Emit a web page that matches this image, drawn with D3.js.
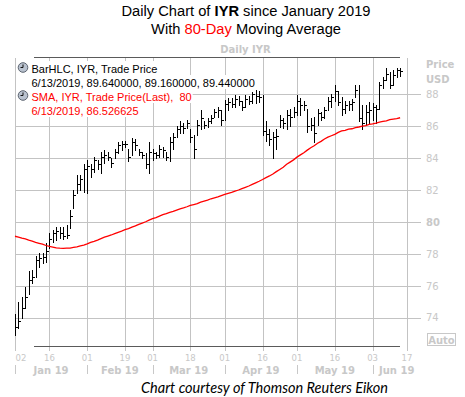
<!DOCTYPE html>
<html>
<head>
<meta charset="utf-8">
<script src="https://cdn.jsdelivr.net/npm/d3@7"></script>
<style>
    html, body { margin: 0; padding: 0; background: #fff; }
    svg { display: block; }
</style>
</head>
<body>
<div id="chart"></div>
<script>
// IYR daily bars, Jan 2 - Jun 13 2019 (trading-day index 0..112)
const highs = [
    74.25, 75.0, 75.3, 75.9, 76.9, 77.0, 77.85, 78.05, 78.05, 78.7,
    79.3, 79.5, 79.7, 79.7, 79.7, 79.8, 80.75, 82.0, 82.95, 82.95,
    83.6, 83.9, 83.6, 84.1, 83.9, 84.4, 84.5, 84.4, 84.0, 84.6,
    85.0, 85.1, 85.1, 84.6, 85.25, 85.2, 84.6, 84.4, 84.3, 85.0,
    84.6, 84.4, 84.8, 84.7, 84.4, 85.3, 85.55, 86.0, 86.3, 86.2,
    86.4, 85.8, 85.45, 86.4, 87.0, 86.3, 86.5, 86.7, 87.1, 87.2,
    87.0, 87.65, 87.75, 87.75, 87.95, 87.9, 87.55, 87.95, 87.9, 88.15,
    88.3, 88.2, 87.95, 86.3, 85.85, 85.65, 85.8, 86.7, 86.5, 87.0,
    87.1, 87.2, 87.95, 87.75, 87.6, 87.1, 86.5, 86.6, 87.1, 86.9,
    87.2, 87.85, 88.05, 88.6, 88.2, 87.85, 87.6, 87.6, 87.7, 88.6,
    88.6, 87.3, 87.3, 87.5, 87.45, 87.3, 88.8, 89.1, 89.65, 89.4,
    89.5, 89.65, 89.64
];
const lows = [
    72.9, 73.35, 74.0, 74.6, 75.5, 76.15, 76.55, 77.2, 77.4, 77.5,
    78.35, 78.75, 78.85, 79.0, 78.9, 79.0, 79.6, 80.9, 81.8, 82.0,
    81.9, 81.8, 82.8, 83.1, 83.3, 83.05, 83.7, 83.9, 83.45, 84.0,
    84.3, 84.5, 84.7, 83.8, 84.2, 84.5, 84.2, 84.0, 83.35, 83.05,
    83.9, 84.0, 84.1, 84.1, 83.9, 83.8, 84.6, 85.3, 85.6, 85.6,
    85.9, 85.0, 84.0, 85.45, 85.8, 85.9, 85.95, 86.2, 86.6, 86.6,
    86.1, 86.4, 87.0, 87.2, 87.2, 87.3, 87.0, 87.2, 87.4, 87.45,
    87.45, 87.5, 85.45, 85.1, 84.8, 84.0, 84.6, 85.95, 85.9, 85.85,
    86.0, 86.6, 86.7, 86.7, 87.0, 85.65, 85.75, 85.0, 86.1, 86.4,
    86.5, 87.0, 87.2, 87.55, 87.3, 86.7, 86.8, 87.0, 87.0, 87.85,
    86.3, 85.85, 86.1, 86.2, 86.4, 86.2, 87.1, 88.4, 88.9, 88.4,
    88.6, 89.1, 89.16
];
const closes = [
    73.4, 73.8, 74.6, 75.3, 76.35, 76.55, 77.6, 77.75, 77.8, 78.2,
    78.9, 79.3, 79.4, 79.3, 79.1, 79.2, 80.4, 81.7, 82.4, 82.7,
    83.3, 83.5, 83.3, 83.9, 83.6, 84.1, 84.2, 84.1, 83.7, 84.4,
    84.8, 84.9, 84.9, 84.1, 85.0, 84.8, 84.4, 84.2, 83.6, 84.4,
    84.3, 84.2, 84.6, 84.5, 84.1, 85.0, 85.3, 85.8, 86.0, 85.9,
    86.2, 85.3, 84.6, 86.1, 86.5, 86.1, 86.3, 86.5, 86.9, 87.0,
    86.4, 87.4, 87.5, 87.4, 87.7, 87.6, 87.2, 87.7, 87.6, 88.0,
    87.9, 87.8, 85.7, 85.5, 85.2, 85.3, 85.4, 86.4, 86.2, 86.7,
    86.6, 86.9, 87.6, 87.3, 87.3, 86.0, 86.1, 85.6, 86.8, 86.6,
    87.0, 87.6, 87.8, 88.2, 87.5, 87.1, 87.3, 87.4, 87.5, 88.3,
    86.5, 86.2, 86.9, 87.0, 87.2, 87.1, 88.6, 88.9, 89.3, 88.6,
    89.2, 89.5, 89.44
];
// 80-day simple moving average
const sma80 = [
    79.10, 79.05, 78.98, 78.93, 78.86, 78.80, 78.72, 78.66, 78.60, 78.52,
    78.46, 78.42, 78.37, 78.35, 78.34, 78.35, 78.36, 78.40, 78.44, 78.50,
    78.55, 78.62, 78.71, 78.78, 78.86, 78.95, 79.04, 79.11, 79.18, 79.27,
    79.35, 79.42, 79.51, 79.58, 79.67, 79.75, 79.85, 79.93, 80.01, 80.11,
    80.20, 80.27, 80.36, 80.45, 80.52, 80.60, 80.66, 80.74, 80.82, 80.88,
    80.95, 81.03, 81.09, 81.15, 81.24, 81.30, 81.36, 81.45, 81.51, 81.57,
    81.65, 81.73, 81.79, 81.85, 81.93, 82.00, 82.09, 82.17, 82.25, 82.35,
    82.45, 82.55, 82.66, 82.78, 82.88, 83.00, 83.15, 83.29, 83.43, 83.61,
    83.75, 83.89, 84.06, 84.20, 84.34, 84.50, 84.65, 84.77, 84.93, 85.05,
    85.20, 85.31, 85.40, 85.49, 85.61, 85.70, 85.74, 85.81, 85.84, 85.91,
    85.95, 86.00, 86.04, 86.11, 86.15, 86.20, 86.26, 86.30, 86.34, 86.41,
    86.45, 86.48, 86.53
];

const priceTicks = [74, 76, 78, 80, 82, 84, 86, 88];
const dayTickIdx = [0, 10, 21, 32, 40, 51, 61, 72, 82, 93, 104, 114];
const dayTickLabels = ["02", "16", "01", "19", "01", "18", "01", "16", "01", "16", "03", "17"];
const monthStartIdx = [0, 21, 40, 61, 82, 104];
const monthEndIdx = [21, 40, 61, 82, 104, 118];
const monthLabels = ["Jan 19", "Feb 19", "Mar 19", "Apr 19", "May 19", "Jun 19"];

const W = 465, H = 397;
const grid = "#c3c3c3";
const faint = "#c8c8c8";

const svg = d3.select("#chart").append("svg")
    .attr("width", W)
    .attr("height", H);

const x = d3.scaleLinear().domain([0, 114]).range([15, 407]);
const y = d3.scaleLinear().domain([74, 88]).range([317.6, 94.3]);
const px = v => Math.round(v) + 0.5;

// titles
const t1 = svg.append("text")
    .attr("x", 246).attr("y", 15.5)
    .attr("text-anchor", "middle")
    .style("font", "14.7px 'Liberation Sans', Arial, sans-serif");
t1.append("tspan").text("Daily Chart of ");
t1.append("tspan").attr("font-weight", "bold").text("IYR");
t1.append("tspan").text(" since January 2019");

const t2 = svg.append("text")
    .attr("x", 246).attr("y", 34.3)
    .attr("text-anchor", "middle")
    .style("font", "14.7px 'Liberation Sans', Arial, sans-serif");
t2.append("tspan").text("With ");
t2.append("tspan").attr("fill", "#ff0000").text("80-Day");
t2.append("tspan").text(" Moving Average");

svg.append("text")
    .attr("x", 245.5).attr("y", 52.5)
    .attr("text-anchor", "middle")
    .attr("fill", faint)
    .style("font", "bold 10px 'DejaVu Sans', sans-serif")
    .text("Daily IYR");

// grid
const g = svg.append("g");

g.selectAll("line.hgrid")
    .data(priceTicks)
    .join("line")
    .attr("class", "hgrid")
    .attr("x1", 15).attr("x2", 421)
    .attr("y1", d => px(y(d))).attr("y2", d => px(y(d)))
    .attr("stroke", grid);

g.selectAll("line.vgrid")
    .data(dayTickIdx)
    .join("line")
    .attr("class", "vgrid")
    .attr("x1", d => px(x(d))).attr("x2", d => px(x(d)))
    .attr("y1", 58).attr("y2", 351)
    .attr("stroke", grid);

// frame lines top/bottom
g.selectAll("line.frame")
    .data([57, 346])
    .join("line")
    .attr("class", "frame")
    .attr("x1", 34).attr("x2", 400)
    .attr("y1", d => d + 0.5).attr("y2", d => d + 0.5)
    .attr("stroke", "#5a5a5a");

// right price axis labels
svg.selectAll("text.ylab")
    .data(priceTicks)
    .join("text")
    .attr("class", "ylab")
    .attr("x", 426)
    .attr("y", d => y(d) + 3.8)
    .attr("fill", faint)
    .style("font", d => (d === 80 ? "bold " : "") + "10px 'DejaVu Sans', sans-serif")
    .text(d => d);

svg.selectAll("text.unit")
    .data(["Price", "USD"])
    .join("text")
    .attr("class", "unit")
    .attr("x", 426)
    .attr("y", (d, i) => 68 + i * 15)
    .attr("fill", faint)
    .style("font", "bold 10px 'DejaVu Sans', sans-serif")
    .text(d => d);

svg.append("rect")
    .attr("x", 427.5).attr("y", 333.5)
    .attr("width", 28).attr("height", 12)
    .attr("fill", "none")
    .attr("stroke", faint);
svg.append("text")
    .attr("x", 441.5).attr("y", 343.5)
    .attr("text-anchor", "middle")
    .attr("fill", faint)
    .style("font", "bold 10px 'DejaVu Sans', sans-serif")
    .text("Auto");

// bottom date axis
svg.selectAll("text.day")
    .data(dayTickIdx)
    .join("text")
    .attr("class", "day")
    .attr("x", (d, i) => i === 0 ? x(d) + 6 : x(d))
    .attr("y", 361)
    .attr("text-anchor", "middle")
    .attr("fill", faint)
    .style("font", "8.5px 'DejaVu Sans', sans-serif")
    .text((d, i) => dayTickLabels[i]);

svg.selectAll("line.msep")
    .data(monthStartIdx)
    .join("line")
    .attr("class", "msep")
    .attr("x1", d => px(x(d))).attr("x2", d => px(x(d)))
    .attr("y1", 365).attr("y2", 374)
    .attr("stroke", faint);

svg.selectAll("text.month")
    .data(monthLabels)
    .join("text")
    .attr("class", "month")
    .attr("x", (d, i) => (x(monthStartIdx[i]) + x(monthEndIdx[i])) / 2)
    .attr("y", 374)
    .attr("text-anchor", "middle")
    .attr("fill", faint)
    .style("font", "bold 10px 'DejaVu Sans', sans-serif")
    .text(d => d);

// price bars (HLC)
const bars = svg.append("g").attr("stroke", "#000").attr("stroke-width", 1);
const idx = d3.range(closes.length);

bars.selectAll("line.hl")
    .data(idx)
    .join("line")
    .attr("class", "hl")
    .attr("x1", i => px(x(i))).attr("x2", i => px(x(i)))
    .attr("y1", i => Math.round(y(highs[i])))
    .attr("y2", i => Math.round(y(lows[i])) + 1);

bars.selectAll("line.cl")
    .data(idx)
    .join("line")
    .attr("class", "cl")
    .attr("x1", i => Math.round(x(i)) + 1).attr("x2", i => Math.round(x(i)) + 3)
    .attr("y1", i => px(y(closes[i]))).attr("y2", i => px(y(closes[i])));

// moving average
const line = d3.line()
    .x((d, i) => x(i))
    .y(d => y(d));

svg.append("path")
    .datum(sma80)
    .attr("d", line)
    .attr("fill", "none")
    .attr("stroke", "#ff0000")
    .attr("stroke-width", 1.3);

// legend
const legendRows = [
    { text: "BarHLC, IYR, Trade Price", color: "#000", icon: true },
    { text: "6/13/2019, 89.640000, 89.160000, 89.440000", color: "#000", icon: false },
    { text: "SMA, IYR, Trade Price(Last),  80", color: "#ff0000", icon: true },
    { text: "6/13/2019, 86.526625", color: "#ff0000", icon: false }
];

const legend = svg.append("g");
legendRows.forEach((r, i) => {
    const by = 72.5 + i * 14;
    const bg = legend.append("rect").attr("fill", "#fff");
    const t = legend.append("text")
        .attr("x", 31.5).attr("y", by)
        .attr("fill", r.color)
        .style("font", "11px 'Liberation Sans', Arial, sans-serif")
        .style("white-space", "pre")
        .text(r.text);
    const bb = t.node().getBBox();
    bg.attr("x", r.icon ? 16 : bb.x - 1).attr("y", by - 11.5)
        .attr("width", bb.x + bb.width + 1 - (r.icon ? 16 : bb.x - 1))
        .attr("height", 14);
    if (r.icon) {
        const cx = 23, cy = by - 5;
        legend.append("circle")
            .attr("cx", cx).attr("cy", cy).attr("r", 4.8)
            .attr("fill", "#b9c2cf")
            .attr("stroke", "#5c6470");
        legend.append("path")
            .attr("d", `M${cx},${cy - 3}V${cy}H${cx - 2.5}`)
            .attr("fill", "none")
            .attr("stroke", "#111")
            .attr("stroke-width", 1);
    }
});

// caption
svg.append("text")
    .attr("x", 264.5).attr("y", 393)
    .attr("text-anchor", "middle")
    .attr("fill", "#000")
    .style("font", "italic 14.5px Lato, 'Open Sans', sans-serif")
    .text("Chart courtesy of Thomson Reuters Eikon");
</script>
</body>
</html>
